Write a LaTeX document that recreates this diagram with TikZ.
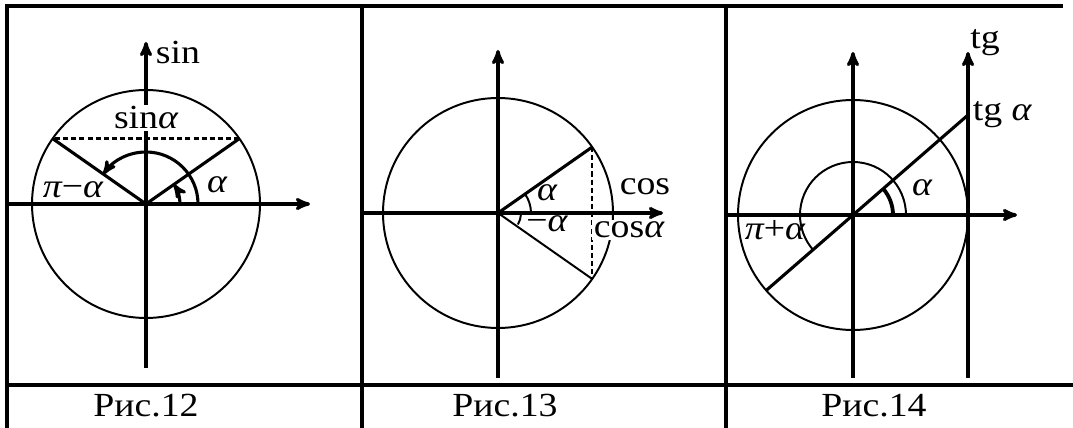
\documentclass[tikz,border=0pt]{standalone}
\usepackage{fontspec}
\setmainfont{Liberation Serif}
\usetikzlibrary{arrows}
\tikzset{
  axis/.style={black, line width=2.3pt, ->, >=stealth'},
  ring/.style={black, line width=1.4pt},
  ray/.style={black, line width=2.2pt},
  dashes/.style={black, line width=1.7pt, dash pattern=on 3.6pt off 2.2pt},
  lbl/.style={inner sep=1pt, xscale=1.12, font=\fontsize{24}{27}\selectfont},
}
\newcommand{\al}{{\itshape α}}

\begin{document}
\begin{tikzpicture}[x=0.25mm, y=0.25mm]
\useasboundingbox (0,0) rectangle (1073,428);
% table
\draw[line width=2.2pt] (7,0) -- (7,422) -- (1063,422);
\draw[line width=2.2pt] (362,0) -- (362,422);
\draw[line width=2.2pt] (726,0) -- (726,422);
\draw[line width=2.2pt] (7,43) -- (1073,43);
\node[lbl] (cap12) at (146,22) {Рис.12};
\node[lbl] (cap13) at (505,22) {Рис.13};
\node[lbl] (cap14) at (874,22) {Рис.14};

% Рис.12
\begin{scope}[shift={(146,224)}]
\draw[ring] (0,0) circle[radius=114];
\draw[axis] (-139,0) -- (164,0);
\draw[axis] (0,-164) -- (0,162);
\node[lbl, anchor=west] (sinax) at (8,151) {sin};
\coordinate (o1) at (0,0);
\coordinate (a1) at (35:114);
\coordinate (b1) at (145:114);
\draw[dashes] (a1) -- (b1);
\draw[ray] (b1) -- (o1) -- (a1);
\draw[ray, ->, >=stealth'] (52,0) arc[start angle=0, end angle=145, radius=52];
\draw[ray, ->, >=stealth'] (34,0) arc[start angle=0, end angle=35, radius=34];
\node[lbl, fill=white] (sina) at (0,86) {sin\al};
\node[lbl] (al1) at (71,19) {\al};
\node[lbl] (pia) at (-73,14) {{\itshape π}−\al};
\end{scope}

% Рис.13
\begin{scope}[shift={(498,215)}]
\draw[ring] (0,0) circle[radius=115];
\draw[axis] (-136,0) -- (165,0);
\draw[axis] (0,-165) -- (0,163);
\coordinate (o2) at (0,0);
\coordinate (a2) at (35:115);
\coordinate (c2) at (-35:115);
\draw[ray] (o2) -- (a2);
\draw[ring] (o2) -- (c2);
\draw[dashes] (a2) -- (c2);
\draw[ring] (33,0) arc[start angle=0, end angle=35, radius=33];
\draw[ring] (-3:23) arc[start angle=-3, end angle=-30, radius=23];
\node[lbl, inner sep=0pt] (al2) at (49,20) {\al};
\node[lbl, inner sep=0pt] (nal2) at (49,-11) {−\al};
\node[lbl] (cosax) at (147,26) {cos};
\node[lbl, anchor=west, fill=white] (cosa) at (94,-17) {cos\al};
\end{scope}

% Рис.14
\begin{scope}[shift={(853,213)}]
\draw[ring] (0,0) circle[radius=115];
\draw[axis] (-127,0) -- (164,0);
\draw[axis] (0,-163) -- (0,163);
\draw[axis] (115,-163) -- (115,163);
\coordinate (o3) at (0,0);
\coordinate (t3) at (115,100);
\coordinate (d3) at (221:115);
\draw[ray] (d3) -- (t3);
\draw[ray, line width=2.7pt] (40,0) arc[start angle=0, end angle=41, radius=40];
\draw[ring] (53,0) arc[start angle=0, end angle=221, radius=53];
\node[lbl] (tgax) at (132,172) {tg};
\node[lbl, anchor=west] (tga) at (118,100) {tg \al};
\node[lbl] (al3) at (69,27) {\al};
\node[lbl] (pib) at (-78,-15) {{\itshape π}+\al};
\end{scope}
\end{tikzpicture}
\end{document}
